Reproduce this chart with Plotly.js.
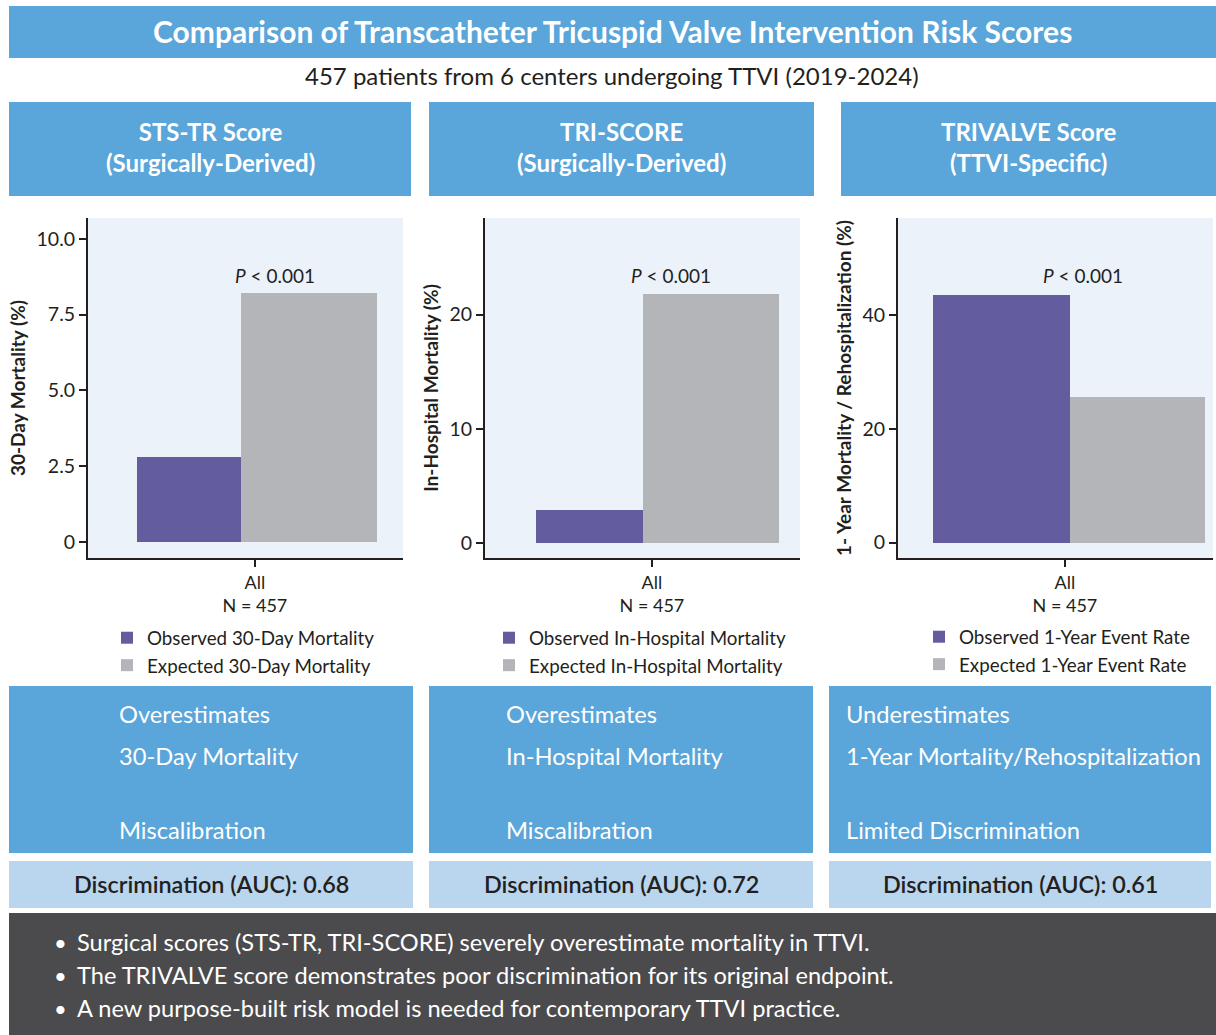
<!DOCTYPE html>
<html><head><meta charset="utf-8">
<script src="https://cdn.plot.ly/plotly-3.0.1.min.js"></script>
<style>html,body{margin:0;padding:0;background:#fff;overflow:hidden;} #chart{width:1216px;height:1035px;}</style>
</head><body><div id="chart"></div>
<script>
// ---- data ----
const categories = ['All'];
const categoryLabels = ['All<br>N = 457'];
const observedSTS = [2.8];
const expectedSTS = [8.2];
const observedTRI = [2.9];
const expectedTRI = [21.8];
const observedTRIVALVE = [43.5];
const expectedTRIVALVE = [25.6];
const namesSTS = ['Observed 30-Day Mortality', 'Expected 30-Day Mortality'];
const namesTRI = ['Observed In-Hospital Mortality', 'Expected In-Hospital Mortality'];
const namesTRIVALVE = ['Observed 1-Year Event Rate', 'Expected 1-Year Event Rate'];
const yTitles = ['30-Day Mortality (%)', 'In-Hospital Mortality (%)', '1- Year Mortality / Rehospitalization (%)'];
const yTicksSTS = [0, 2.5, 5, 7.5, 10];
const yTickTextSTS = ['0', '2.5', '5.0', '7.5', '10.0'];
const yTicksTRI = [0, 10, 20];
const yTicksTRIVALVE = [0, 20, 40];
const pValueText = '<i>P</i> &lt; 0.001';
const mainTitle = 'Comparison of Transcatheter Tricuspid Valve Intervention Risk Scores';
const subTitle = '457 patients from 6 centers undergoing TTVI (2019-2024)';
const headerTitles = ['STS-TR Score<br>(Surgically-Derived)', 'TRI-SCORE<br>(Surgically-Derived)', 'TRIVALVE Score<br>(TTVI-Specific)'];
const findingLine1 = ['Overestimates', 'Overestimates', 'Underestimates'];
const findingLine2 = ['30-Day Mortality', 'In-Hospital Mortality', '1-Year Mortality/Rehospitalization'];
const findingLine3 = ['Miscalibration', 'Miscalibration', 'Limited Discrimination'];
const aucValues = ['0.68', '0.72', '0.61'];
const bullets = [
  'Surgical scores (STS-TR, TRI-SCORE) severely overestimate mortality in TTVI.',
  'The TRIVALVE score demonstrates poor discrimination for its original endpoint.',
  'A new purpose-built risk model is needed for contemporary TTVI practice.'
];

// ---- style ----
const W = 1216, H = 1035;
const FONT = 'Lato, "Open Sans", sans-serif';
const PURPLE = '#635C9E', GREY = '#B4B5B8', BLUE = '#5AA5D9', LIGHT = '#BAD5EE', DARK = '#4B4B4D', INK = '#231F20', PLOTBG = '#EBF2FA';
const X = p => p / W, Y = p => 1 - p / H;

function bar(x, y, name, color, xa, ya, lg, offset, width) {
  return {type: 'bar', x: x, y: y, name: name, marker: {color: color, line: {width: 0}},
    xaxis: xa, yaxis: ya, legend: lg, offset: offset, width: width, hoverinfo: 'skip'};
}
const traces = [
  bar(categories, observedSTS, namesSTS[0], PURPLE, 'x', 'y', 'legend', -0.3746, 0.330),
  bar(categories, expectedSTS, namesSTS[1], GREY, 'x', 'y', 'legend', -0.0444, 0.4317),
  bar(categories, observedTRI, namesTRI[0], PURPLE, 'x2', 'y2', 'legend2', -0.369, 0.340),
  bar(categories, expectedTRI, namesTRI[1], GREY, 'x2', 'y2', 'legend2', -0.0295, 0.432),
  bar(categories, observedTRIVALVE, namesTRIVALVE[0], PURPLE, 'x3', 'y3', 'legend3', -0.420, 0.435),
  bar(categories, expectedTRIVALVE, namesTRIVALVE[1], GREY, 'x3', 'y3', 'legend3', 0.015, 0.430)
];

function xax(d0, d1, anchor) {
  return {domain: [X(d0), X(d1)], anchor: anchor, type: 'category', range: [-0.530, 0.470],
    tickmode: 'array', tickvals: categories, ticktext: categoryLabels,
    showline: true, linecolor: INK, linewidth: 2, ticks: 'outside', ticklen: 7, tickwidth: 2, tickcolor: INK,
    tickfont: {family: FONT, size: 18, color: INK}, showgrid: false, zeroline: false, fixedrange: true};
}
function yax(anchor, range, tv, tt, title) {
  return {domain: [Y(558), Y(218)], anchor: anchor, range: range, tickmode: 'array', tickvals: tv, ticktext: tt,
    showline: true, linecolor: INK, linewidth: 2, ticks: 'outside', ticklen: 7, tickwidth: 2, tickcolor: INK,
    tickfont: {family: FONT, size: 19.5, color: INK}, showgrid: false, zeroline: false, fixedrange: true,
    title: {text: '<b>' + title + '</b>', font: {family: FONT, size: 19, color: INK}, standoff: 6}};
}
function legendAt(px, py) {
  return {x: X(px), y: Y(py), xanchor: 'left', yanchor: 'top', bgcolor: 'rgba(0,0,0,0)',
    font: {family: FONT, size: 18.8, color: INK}, traceorder: 'normal', tracegroupgap: 0};
}

const shapes = [];
function rect(x0, y0, x1, y1, color) {
  shapes.push({type: 'rect', xref: 'paper', yref: 'paper', x0: X(x0), x1: X(x1), y0: Y(y1), y1: Y(y0),
    fillcolor: color, line: {width: 0}, layer: 'below'});
}
rect(9, 6, 1216, 58, BLUE);
const headerX = [[9, 411], [429, 814], [841, 1216]];
headerX.forEach(h => rect(h[0], 102, h[1], 196, BLUE));
const boxX = [[9, 413], [429, 813], [829, 1211]];
boxX.forEach(b => { rect(b[0], 686, b[1], 853, BLUE); rect(b[0], 861, b[1], 908, LIGHT); });
rect(9, 913, 1216, 1035, DARK);

const ann = [];
function text(t, px, py, size, color, opts) {
  ann.push(Object.assign({text: t, x: X(px), y: Y(py), xref: 'paper', yref: 'paper', showarrow: false,
    xanchor: 'center', yanchor: 'middle', font: {family: FONT, size: size, color: color}}, opts || {}));
}
text('<b>' + mainTitle + '</b>', 612, 31, 30, '#FFFFFF');
text(subTitle, 612, 76, 24, INK);
headerX.forEach((h, i) => text('<b>' + headerTitles[i] + '</b>', (h[0] + h[1]) / 2, 147.5, 24, '#FFFFFF',
  {font: {family: FONT, size: 24, color: '#FFFFFF'}}));
const pX = [275, 671, 1083];
pX.forEach(px => text(pValueText, px, 276, 19, INK));
const findX = [117, 504, 844];
findX.forEach((fx, i) => {
  text(findingLine1[i], fx, 714, 23.7, '#FFFFFF', {xanchor: 'left'});
  text(findingLine2[i], fx, 756, 23.7, '#FFFFFF', {xanchor: 'left'});
  text(findingLine3[i], fx, 830, 23.7, '#FFFFFF', {xanchor: 'left'});
});
boxX.forEach((b, i) => text('Discrimination (AUC): ' + aucValues[i], (b[0] + b[1]) / 2, 884, 23.4, INK,
  {font: {family: FONT, size: 23.4, color: INK, weight: 600}}));
const bulletY = [942, 975, 1008];
bullets.forEach((b, i) => {
  text('•', 60, bulletY[i], 22, '#FFFFFF');
  text(b, 75, bulletY[i], 23.6, '#FFFFFF', {xanchor: 'left'});
});

const layout = {
  width: W, height: H, margin: {l: 0, r: 0, t: 0, b: 0}, paper_bgcolor: '#FFFFFF', plot_bgcolor: PLOTBG,
  font: {family: FONT, color: INK}, barmode: 'overlay', bargap: 0,
  xaxis: xax(88, 403, 'y'),
  yaxis: yax('x', [-0.53, 10.69], yTicksSTS, yTickTextSTS, yTitles[0]),
  xaxis2: xax(485, 800, 'y2'),
  yaxis2: yax('x2', [-1.29, 28.45], yTicksTRI, yTicksTRI.map(String), yTitles[1]),
  xaxis3: xax(898, 1213, 'y3'),
  yaxis3: yax('x3', [-2.7, 57.1], yTicksTRIVALVE, yTicksTRIVALVE.map(String), yTitles[2]),
  legend: legendAt(107, 619),
  legend2: legendAt(489, 619),
  legend3: legendAt(919, 618),
  shapes: shapes, annotations: ann, showlegend: true
};
Plotly.newPlot('chart', traces, layout, {displayModeBar: false, staticPlot: true});
</script></body></html>
